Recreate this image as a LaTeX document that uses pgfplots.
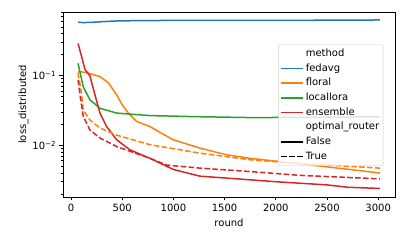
\documentclass[border=0pt]{standalone}
\usepackage{fontspec}
\setmainfont{DejaVu Sans}
\usepackage{pgfplots}
\pgfplotsset{compat=1.18}
\definecolor{tabblue}{HTML}{1F77B4}
\definecolor{taborange}{HTML}{FF7F0E}
\definecolor{tabgreen}{HTML}{2CA02C}
\definecolor{tabred}{HTML}{D62728}
\begin{document}
\begin{tikzpicture}[font=\fontsize{10bp}{12bp}\selectfont]
\useasboundingbox (0,0) rectangle (407bp,244bp);
\begin{axis}[
  at={(63bp,47bp)}, anchor=south west,
  scale only axis, width=332bp, height=185bp,
  ymode=log,
  xmin=-78, xmax=3164,
  ymin=0.00181, ymax=0.82,
  xtick={0,500,1000,1500,2000,2500,3000},
  ytick={0.01,0.1},
  yticklabels={10\textsuperscript{−2},10\textsuperscript{−1}},
  minor ytick={0.002,0.003,0.004,0.005,0.006,0.007,0.008,0.009,0.02,0.03,0.04,0.05,0.06,0.07,0.08,0.09,0.2,0.3,0.4,0.5,0.6,0.7,0.8},
  /pgf/number format/assume math mode=true,
  /pgf/number format/1000 sep={},
  tick pos=left, tick align=outside,
  major tick length=3.5bp, minor tick length=2bp,
  every tick/.style={black, line width=0.8bp},
  axis line style={line width=0.8bp},
  xlabel={round}, ylabel={loss\_distributed},
  ylabel style={yshift=-3bp},
  legend cell align=left,
  legend style={at={(0.648,0.824)}, anchor=north west, draw=black!20, fill=white, fill opacity=0.8, text opacity=1, rounded corners=2bp, font=\fontsize{10bp}{12bp}\selectfont, row sep=0.5bp, inner sep=2bp,
    nodes={text height=7.6bp, text depth=2.6bp}},
  legend image code/.code={\draw[mark repeat=2,mark phase=2,#1] plot coordinates {(0bp,0bp) (11bp,0bp) (22bp,0bp)};},
  every axis plot/.append style={line width=1.5bp},
  mydash/.style={dash pattern=on 5.55bp off 2.4bp},
]
\addlegendimage{empty legend}\addlegendentry{method}
\addplot[tabblue] coordinates {(69,0.585)(120,0.578)(200,0.582)(300,0.595)(446,0.61)(700,0.618)(1000,0.62)(1500,0.62)(2000,0.622)(2500,0.625)(3017,0.63)};
\addlegendentry{fedavg}
\addplot[taborange] coordinates {(69,0.114)(137,0.112)(200,0.105)(283,0.097)(365,0.079)(446,0.053)(500,0.038)(560,0.029)(641,0.022)(771,0.0186)(880,0.015)(999,0.012)(1260,0.0091)(1520,0.0073)(1748,0.0065)(2009,0.0059)(2500,0.0049)(3017,0.0040)};
\addlegendentry{floral}
\addplot[tabgreen] coordinates {(69,0.15)(120,0.069)(185,0.045)(283,0.034)(446,0.029)(771,0.0267)(1200,0.0258)(1748,0.025)(2400,0.0252)(3017,0.0257)};
\addlegendentry{locallora}
\addplot[tabred] coordinates {(69,0.29)(137,0.123)(185,0.099)(234,0.053)(283,0.029)(348,0.0186)(446,0.012)(576,0.0086)(771,0.0065)(999,0.0045)(1260,0.0036)(1500,0.0034)(2000,0.0030)(2500,0.0027)(2700,0.0025)(3017,0.0024)};
\addlegendentry{ensemble}
\addlegendimage{empty legend}\addlegendentry{optimal\_router}
\addlegendimage{black, solid, line width=1.5bp}\addlegendentry{False}
\addlegendimage{black, mydash, line width=1.5bp}\addlegendentry{True}
\addplot[taborange, mydash, forget plot] coordinates {(69,0.11)(100,0.06)(120,0.032)(185,0.023)(283,0.0177)(446,0.014)(771,0.0102)(1260,0.0077)(1748,0.0062)(2236,0.0055)(3017,0.0047)};
\addplot[tabred, mydash, forget plot] coordinates {(69,0.087)(95,0.045)(120,0.026)(185,0.0166)(283,0.0127)(446,0.0096)(771,0.0065)(934,0.0052)(1260,0.0047)(1748,0.0042)(2236,0.0037)(3017,0.0033)};
\end{axis}
\end{tikzpicture}
\end{document}
